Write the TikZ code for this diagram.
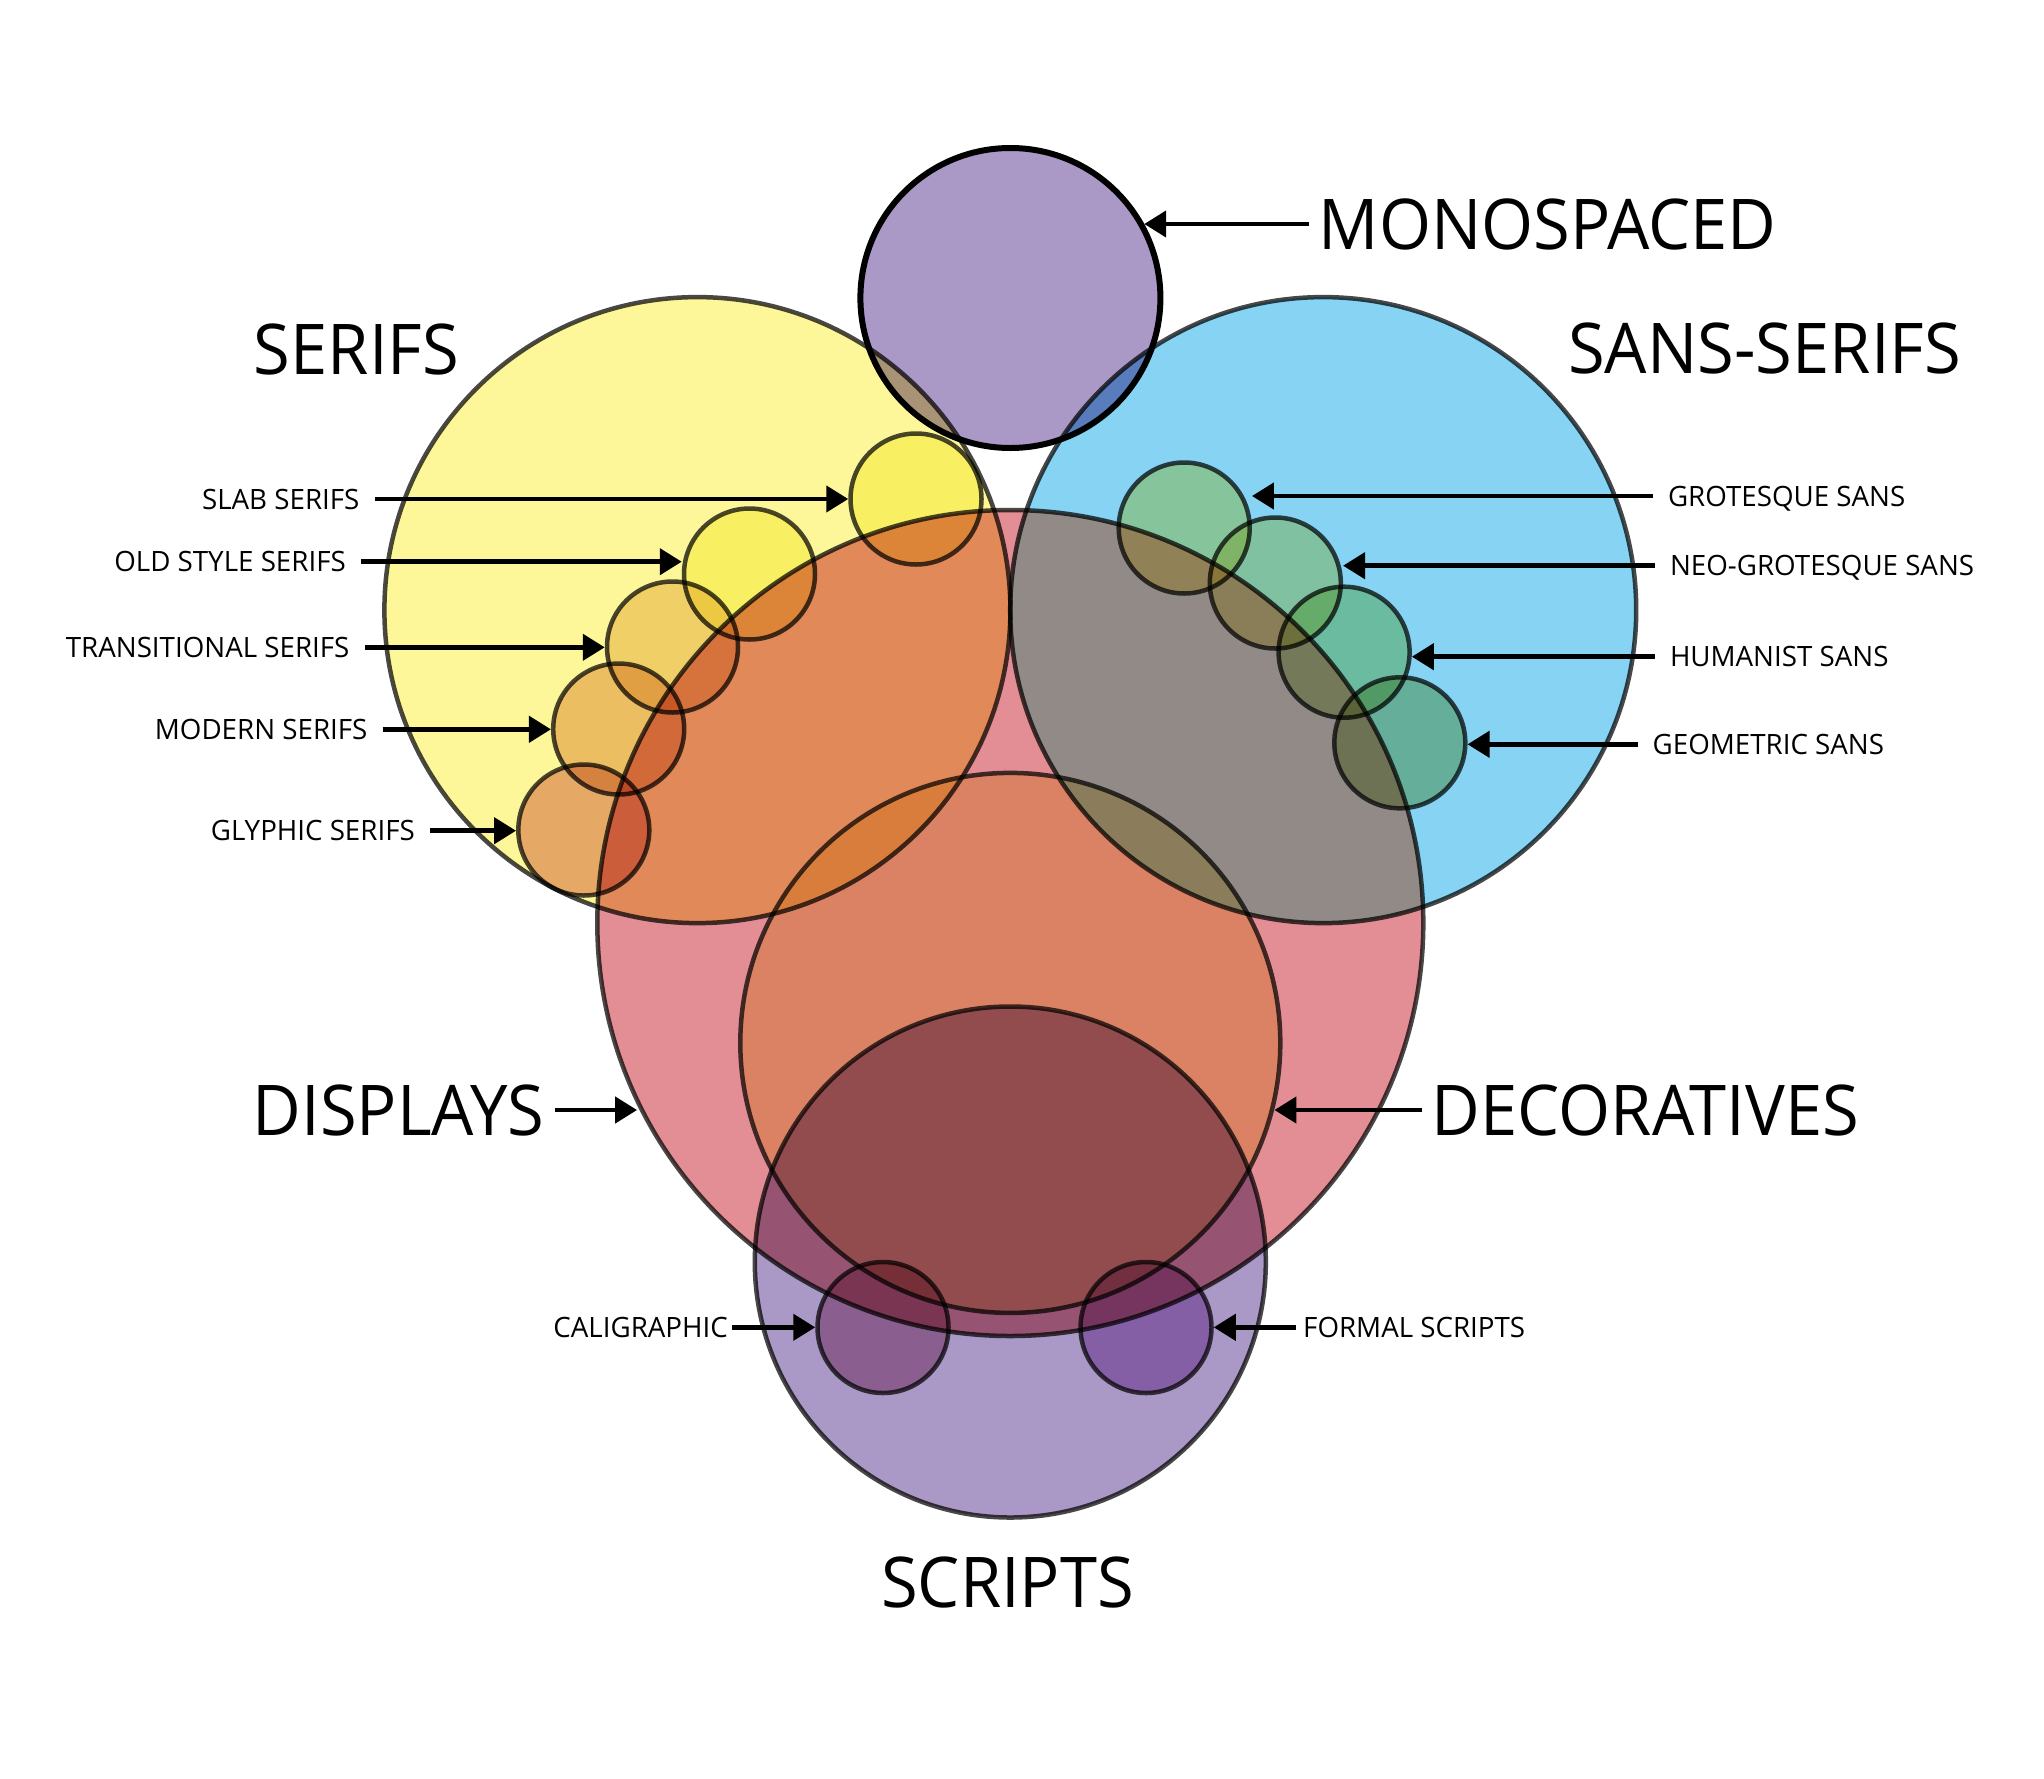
\documentclass[tikz,border=0pt]{standalone}
\usepackage{fontspec}
\setmainfont{Open Sans}[FakeStretch=0.955]
\newfontfamily\tagfont{Open Sans}[FakeStretch=0.99]
\usetikzlibrary{arrows.meta}

\definecolor{serifyellow}{RGB}{253,247,153}
\definecolor{sansblue}{RGB}{134,211,243}
\definecolor{sansgray}{RGB}{163,248,234}
\definecolor{displaypink}{RGB}{227,142,148}
\definecolor{decobeige}{RGB}{247,233,174}
\definecolor{scriptlilac}{RGB}{170,152,198}
\definecolor{rimgray}{RGB}{72,72,72}
\definecolor{tintslab}{RGB}{250,247,165}
\definecolor{tintold}{RGB}{250,247,165}
\definecolor{tinttrans}{RGB}{243,214,173}
\definecolor{tintmodern}{RGB}{238,197,164}
\definecolor{tintglyph}{RGB}{231,174,169}
\definecolor{tintgrot}{RGB}{255,239,164}
\definecolor{tintneo}{RGB}{242,234,168}
\definecolor{tinthum}{RGB}{204,227,169}
\definecolor{tintgeo}{RGB}{194,211,162}
\definecolor{tintcali}{RGB}{207,161,185}
\definecolor{tintformal}{RGB}{199,161,214}

\begin{document}
\begin{tikzpicture}[x=1pt,y=-1pt,
    genre/.style={circle, inner sep=0pt, minimum size=#1, draw=rimgray, line width=4.5pt},
    bigname/.style={font=\fontsize{70}{84}\selectfont, text height=50pt, text depth=0pt, inner xsep=10pt, inner ysep=0pt},
    smallname/.style={font=\tagfont\fontsize{28}{34}\selectfont, text height=20pt, text depth=0pt, inner xsep=15pt, inner ysep=0pt},
    pointer/.style={line width=4.5pt, -{Triangle[length=22pt,width=26pt]}}]
	\useasboundingbox (0,0) rectangle (2044,1778);

	% the type families, mixed as in print
	\begin{scope}[blend group=multiply]
		\node[genre=626pt, fill=serifyellow] (serifs) at (697.4,610.1) {};
		\node[genre=826pt, fill=displaypink] (displays) at (1010.3,923) {};
		\node[genre=540pt, fill=decobeige] (decoratives) at (1010.3,1042.9) {};
		\node[genre=511pt, fill=scriptlilac] (scripts) at (1010.3,1262) {};
		\node[genre=626pt] (sans) at (1323.2,610.1) {};
		\begin{scope}
			\clip (sans.center) circle[radius=313pt];
			\fill[sansblue, even odd rule] (sans.center) circle[radius=313pt] (displays.center) circle[radius=413pt];
			\fill[sansgray] (displays.center) circle[radius=413pt];
		\end{scope}
		\node[genre=300pt, fill=scriptlilac, draw=black, line width=6pt] (mono) at (1010.4,298) {};
		\foreach \n/\x/\y in {slab/916/499, old/749.5/574, trans/672.5/647, modern/618.7/729, glyph/583.8/830,
				grot/1184.2/528, neo/1275.3/583, hum/1344.1/652.2, geo/1399.8/742.8,
				cali/883/1327.5, formal/1146/1327.5}{
			\node[genre=131pt, fill=tint\n] (\n) at (\x,\y) {};
		}
	\end{scope}

	\node[bigname] (lblserifs) at (356.5,349) {SERIFS};
	\node[bigname] (lblsans) at (1764.5,348) {SANS-SERIFS};
	\node[bigname] (lblscripts) at (1007.5,1582) {SCRIPTS};
	\node[bigname, anchor=west] (lblmono) at (1308.7,224) {MONOSPACED};
	\node[bigname, anchor=east] (lbldisplays) at (554.5,1110) {DISPLAYS};
	\node[bigname, anchor=west] (lbldeco) at (1421.7,1110) {DECORATIVES};
	\draw[pointer] (lblmono.west) -- (lblmono.west -| mono.29.6);
	\draw[pointer] (lbldisplays.east) -- (lbldisplays.east -| displays.206.9);
	\draw[pointer] (lbldeco.west) -- (lbldeco.west -| decoratives.-14.4);

	\foreach \n/\x/\y/\t in {slab/374.6/499/SLAB SERIFS, old/361/561.7/OLD STYLE SERIFS,
			trans/364.6/647.3/TRANSITIONAL SERIFS, modern/382.6/729.3/MODERN SERIFS, glyph/430/830.7/GLYPHIC SERIFS}{
		\node[smallname, anchor=east] (lbl\n) at (\x,\y) {\t};
		\draw[pointer] (lbl\n.east) -- (lbl\n.east -| \n.west);
	}
	\foreach \n/\x/\y/\t in {grot/1652.8/496/GROTESQUE SANS, neo/1654.8/565.7/NEO-GROTESQUE SANS,
			hum/1654.8/656.7/HUMANIST SANS, geo/1637.5/744.3/GEOMETRIC SANS}{
		\node[smallname, anchor=west] (lbl\n) at (\x,\y) {\t};
		\draw[pointer] (lbl\n.west) -- (lbl\n.west -| \n.east);
	}

	\node[smallname, anchor=east, inner xsep=4pt] (lblcali) at (732,1327.3) {CALIGRAPHIC};
	\node[smallname, anchor=west, inner xsep=7pt] (lblformal) at (1296,1327.3) {FORMAL SCRIPTS};
	\draw[pointer] (lblcali.east) -- (lblcali.east -| cali.west);
	\draw[pointer] (lblformal.west) -- (lblformal.west -| formal.east);
\end{tikzpicture}
\end{document}
